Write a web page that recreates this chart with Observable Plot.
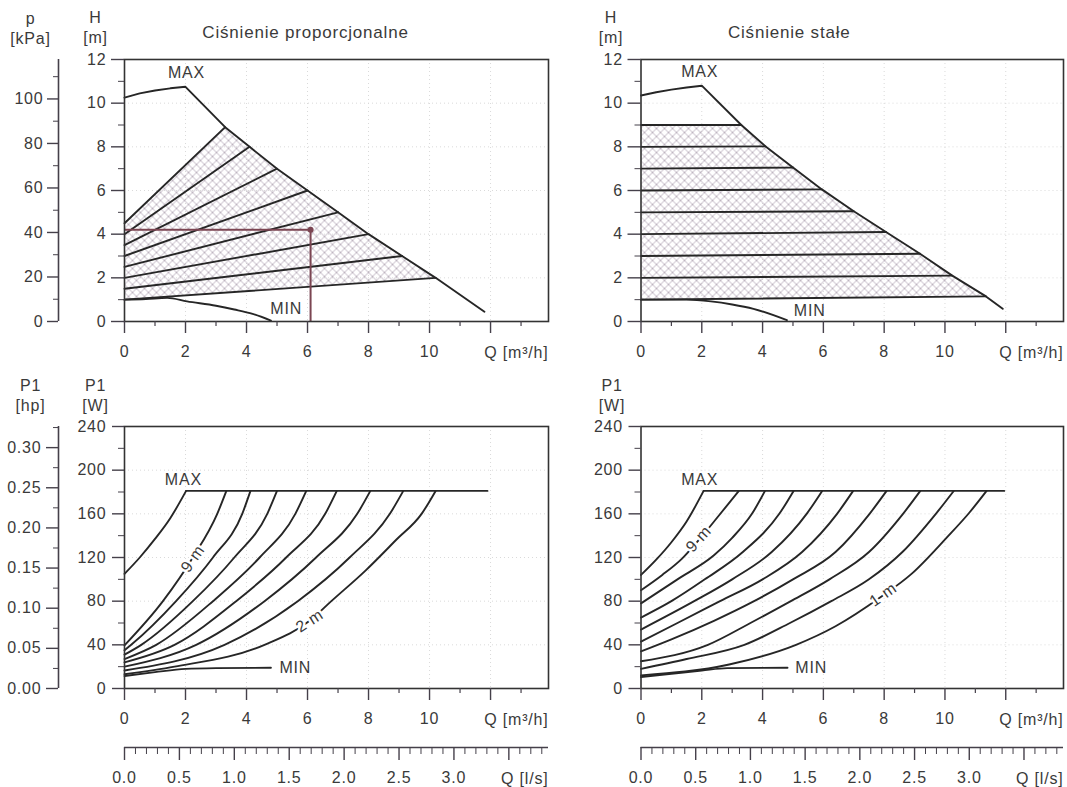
<!DOCTYPE html>
<html><head><meta charset="utf-8">
<script src="https://cdn.jsdelivr.net/npm/d3@7"></script>
<script src="https://cdn.jsdelivr.net/npm/@observablehq/plot@0.6"></script>
<style>
body{margin:0;background:#fff;}
#root{position:relative;width:1067px;height:787px;background:#fff;overflow:hidden;}
</style></head><body><div id="root"></div>
<script>
// ---------- tick values & labels ----------
const qMajorTicks = [0, 2, 4, 6, 8, 10, 12];
const qMajorLabels = ["0", "2", "4", "6", "8", "10", ""];
const qMinorTicks = [1, 3, 5, 7, 9, 11, 13];
const hMajorTicks = [0, 2, 4, 6, 8, 10, 12];
const hMinorTicks = [1, 3, 5, 7, 9, 11];
const pMajorTicks = [0, 20, 40, 60, 80, 100];
const pMinorTicks = [10, 30, 50, 70, 90, 110];
const wMajorTicks = [0, 40, 80, 120, 160, 200, 240];
const wMinorTicks = [20, 60, 100, 140, 180, 220];
const hpMajorTicks = [0, 0.05, 0.10, 0.15, 0.20, 0.25, 0.30];
const hpMajorLabels = ["0.00", "0.05", "0.10", "0.15", "0.20", "0.25", "0.30"];
const hpMinorTicks = [0.025, 0.075, 0.125, 0.175, 0.225, 0.275, 0.325];
const lsMajorTicks = [0, 0.5, 1.0, 1.5, 2.0, 2.5, 3.0, 3.5];
const lsMajorLabels = ["0.0", "0.5", "1.0", "1.5", "2.0", "2.5", "3.0", ""];
const lsMinorTicks = [0.1,0.2,0.3,0.4,0.6,0.7,0.8,0.9,1.1,1.2,1.3,1.4,1.6,1.7,1.8,1.9,2.1,2.2,2.3,2.4,2.6,2.7,2.8,2.9,3.1,3.2,3.3,3.4,3.6,3.7,3.8];

const Q_MAX = 13.9, H_MAX = 12, W_MAX = 240;
const KPA_PER_M = 9.81, W_PER_HP = 735.5, M3H_PER_LS = 3.6;

// ---------- top-left: proportional pressure ----------
const tlMaxQ = [0, 0.5, 1, 1.5, 2, 3.3, 4.1, 5.0, 6.0, 7.0, 8.0, 9.1, 10.2, 11.8];
const tlMaxH = [10.25, 10.45, 10.58, 10.68, 10.75, 8.9, 8.0, 7.0, 6.0, 5.0, 4.0, 3.0, 2.0, 0.45];
const tlMinQ = [0, 0.7, 1.4, 2.05, 3.0, 3.6, 4.2, 4.8];
const tlMinH = [1.0, 1.03, 1.08, 0.92, 0.72, 0.55, 0.35, 0.04];
const tlPropStartH = [4.5, 4.0, 3.5, 3.0, 2.5, 2.0, 1.5, 1.0];
const tlPropEndQ = [3.3, 4.1, 5.0, 6.0, 7.0, 8.0, 9.1, 10.2];
const tlPropEndH = [8.9, 8.0, 7.0, 6.0, 5.0, 4.0, 3.0, 2.0];
const tlDutyQ = 6.1, tlDutyH = 4.2;

// ---------- top-right: constant pressure ----------
const trMaxQ = [0, 0.5, 1, 1.5, 2, 3.3, 4.1, 5.0, 5.95, 7.0, 8.06, 9.18, 10.24, 11.35, 11.9];
const trMaxH = [10.35, 10.5, 10.62, 10.72, 10.8, 9.0, 8.02, 7.05, 6.05, 5.05, 4.1, 3.1, 2.1, 1.15, 0.58];
const trMinQ = [0, 1.5, 2.3, 3.0, 3.7, 4.8];
const trMinH = [1.0, 1.0, 0.92, 0.78, 0.58, 0.06];
const trLevelH = [9, 8, 7, 6, 5, 4, 3, 2, 1];
const trLevelEndQ = [3.3, 4.1, 5.0, 5.95, 7.0, 8.06, 9.18, 10.24, 11.35];
const trLevelEndH = [9.0, 8.02, 7.05, 6.05, 5.05, 4.1, 3.1, 2.1, 1.15];

// ---------- bottom-left: power, proportional ----------
const blMaxRiseQ = [0, 0.5, 1.0, 1.5, 2.02];
const blMaxRiseW = [105, 120, 137, 156, 181];
const blMaxTopQ = [2.02, 11.9];
const blMaxTopW = [181, 181];
const blMinQ = [0, 1.0, 2.0, 3.0, 4.8];
const blMinW = [11.5, 15, 18, 18.7, 19];
const bl9Q = [0, 1.26, 2.24, 3.04, 3.34];                  const bl9W = [39.5, 80, 120, 160, 181];
const bl8Q = [0, 0.22, 1.69, 2.9, 3.86, 4.13];             const bl8W = [35, 40, 80, 120, 160, 181];
const bl7Q = [0, 0.55, 2.24, 3.6, 4.68, 5.0];              const bl7W = [31, 40, 80, 120, 160, 181];
const bl6Q = [0, 1.04, 2.9, 4.43, 5.6, 5.96];              const bl6W = [27, 40, 80, 120, 160, 181];
const bl5Q = [0, 1.64, 3.66, 5.3, 6.58, 6.96];             const bl5W = [24, 40, 80, 120, 160, 181];
const bl4Q = [0, 2.35, 4.59, 6.28, 7.63, 8.06];            const bl4W = [20, 40, 80, 120, 160, 181];
const bl3Q = [0, 3.28, 5.68, 7.38, 8.7, 9.14];             const bl3W = [16.5, 40, 80, 120, 160, 181];
const bl2Q = [0, 1.64, 4.59, 6.07, 6.78, 7.9, 8.9, 9.74, 10.2]; const bl2W = [13, 20, 40, 62, 80, 108, 136, 160, 181];

// ---------- bottom-right: power, constant ----------
const brMaxRiseQ = [0, 0.5, 1.0, 1.5, 2.06];
const brMaxRiseW = [104, 118, 134, 153, 181];
const brMaxTopQ = [2.06, 11.95];
const brMaxTopW = [181, 181];
const brMinQ = [0, 1.0, 2.0, 2.84, 4.82];
const brMinW = [10.5, 13.5, 16.5, 18.7, 19];
const br9Q = [0, 0.7, 1.35, 1.9, 2.55, 3.22];            const br9W = [90, 104, 119, 136, 158, 181];
const br8Q = [0, 1.2, 2.4, 3.0, 3.65, 4.08];             const br8W = [78, 100, 122, 138, 160, 181];
const br7Q = [0, 1.0, 2.1, 3.35, 4.55, 5.02];            const br7W = [65, 80, 100, 125, 160, 181];
const br6Q = [0, 1.75, 3.0, 4.3, 5.45, 5.96];            const br6W = [54, 80, 100, 125, 160, 181];
const br5Q = [0, 1.2, 2.6, 4.0, 5.3, 6.45, 6.98];        const br5W = [43, 60, 80, 100, 125, 160, 181];
const br4Q = [0, 1.0, 2.4, 3.72, 5.0, 6.4, 7.52, 8.08];  const br4W = [34, 45, 62, 80, 100, 125, 160, 181];
const br3Q = [0, 2.2, 3.6, 4.93, 6.2, 7.5, 8.62, 9.19];  const br3W = [25, 40, 60, 80, 100, 125, 160, 181];
const br2Q = [0, 1.5, 3.4, 4.9, 6.26, 7.5, 8.6, 9.7, 10.29]; const br2W = [18, 27, 40, 60, 80, 100, 125, 160, 181];
const br1Q = [0, 2.9, 5.1, 6.4, 7.9, 8.9, 10.05, 10.8, 11.37]; const br1W = [12, 22, 40, 57, 84, 105, 138, 161, 181];

// ---------- styling ----------
const FONT = "'Liberation Sans', Arial, Helvetica, sans-serif";
const INK = "#262626", AXIS = "#45404a", TEXT = "#3a3a3a";
const HATCH = "#a495a6", DUTY = "#7b4552", GRID = "#dadada";
const baseStyle = {fontFamily: FONT, fontSize: "16px", letterSpacing: "0.8px", color: TEXT, background: "transparent", overflow: "visible"};

const root = document.getElementById("root");
function place(svg, left, top) {
  svg.style.position = "absolute"; svg.style.left = left + "px"; svg.style.top = top + "px";
  root.appendChild(svg);
}
const pts = (qs, vs, s = 0) => qs.map((q, i) => ({q, v: vs[i], s}));
const lookup = (ticks, labels) => (d) => labels[ticks.indexOf(d)];

function hatchDefs(id) {
  return () => {
    const ns = "http://www.w3.org/2000/svg";
    const defs = document.createElementNS(ns, "defs");
    const pat = document.createElementNS(ns, "pattern");
    pat.setAttribute("id", id);
    pat.setAttribute("patternUnits", "userSpaceOnUse");
    pat.setAttribute("width", 8); pat.setAttribute("height", 8);
    const path = document.createElementNS(ns, "path");
    path.setAttribute("d", "M-1,-1L9,9M9,-1L-1,9");
    path.setAttribute("stroke", HATCH); path.setAttribute("stroke-width", 0.7); path.setAttribute("fill", "none");
    pat.appendChild(path); defs.appendChild(pat);
    return defs;
  };
}

function qAxes() {
  return [
    Plot.axisX({ticks: qMajorTicks, tickSize: 12, tickPadding: 12, tickFormat: lookup(qMajorTicks, qMajorLabels), stroke: AXIS, strokeWidth: 1.4, fill: TEXT, label: null}),
    Plot.axisX({ticks: qMinorTicks, tickSize: 5, stroke: AXIS, strokeWidth: 1.2, fill: "none", label: null})
  ];
}
function gridMarks(yTicks) {
  return [
    Plot.gridX(qMajorTicks.slice(1), {stroke: GRID, strokeOpacity: 1, strokeDasharray: "1,3"}),
    Plot.gridY(yTicks.slice(1), {stroke: GRID, strokeOpacity: 1, strokeDasharray: "1,3"})
  ];
}
const lineOpts = {x: "q", y: "v", stroke: INK, strokeWidth: 1.9, strokeLinejoin: "round"};
const smooth = {...lineOpts, curve: "monotone-x"};

// ---------- p [kPa] secondary axis ----------
place(Plot.plot({
  width: 70, height: 370, marginLeft: 58, marginRight: 11, marginTop: 59, marginBottom: 49,
  x: {domain: [0, 1], axis: null}, y: {domain: [0, H_MAX * KPA_PER_M], axis: null, label: null},
  style: baseStyle,
  marks: [
    Plot.ruleX([0], {stroke: AXIS, strokeWidth: 1.6}),
    Plot.axisY({ticks: pMajorTicks, tickSize: 11, tickPadding: 4, stroke: AXIS, strokeWidth: 1.4, fill: TEXT, label: null}),
    Plot.axisY({ticks: pMinorTicks, tickSize: 5, stroke: AXIS, fill: "none", label: null}),
    Plot.text(["p"], {frameAnchor: "top-left", dx: -28, dy: -41, textAnchor: "middle", lineAnchor: "middle", fill: TEXT}),
    Plot.text(["[kPa]"], {frameAnchor: "top-left", dx: -28, dy: -21, textAnchor: "middle", lineAnchor: "middle", fill: TEXT})
  ]
}), 0, 0);

// ---------- top-left panel ----------
{
  const propLines = tlPropStartH.flatMap((h0, i) => [{q: 0, v: h0, s: i}, {q: tlPropEndQ[i], v: tlPropEndH[i], s: i}]);
  const poly = [{q: 0, v: tlPropStartH[0]}, ...tlPropEndQ.map((q, i) => ({q, v: tlPropEndH[i]})), {q: 0, v: tlPropStartH[tlPropStartH.length - 1]}];
  place(Plot.plot({
    width: 560, height: 370, marginLeft: 124, marginRight: 12, marginTop: 59, marginBottom: 49,
    x: {domain: [0, Q_MAX], axis: null, label: null}, y: {domain: [0, H_MAX], axis: null, label: null},
    style: baseStyle,
    marks: [
      hatchDefs("hatchTL"),
      ...gridMarks(hMajorTicks),
      Plot.line(poly, {x: "q", y: "v", fill: "url(#hatchTL)", stroke: "none"}),
      Plot.line(propLines, {...lineOpts, z: "s"}),
      Plot.line(pts(tlMaxQ, tlMaxH), lineOpts),
      Plot.line(pts(tlMinQ, tlMinH), smooth),
      Plot.ruleY([{h: tlDutyH, q1: 0, q2: tlDutyQ + 0.1}], {y: "h", x1: "q1", x2: "q2", stroke: DUTY, strokeWidth: 2}),
      Plot.ruleX([{q: tlDutyQ, h1: 0, h2: tlDutyH}], {x: "q", y1: "h1", y2: "h2", stroke: DUTY, strokeWidth: 2}),
      Plot.dot([{q: tlDutyQ, h: tlDutyH}], {x: "q", y: "h", r: 3, fill: DUTY, stroke: "none"}),
      Plot.frame({stroke: "#333", strokeWidth: 1.6}),
      ...qAxes(),
      Plot.axisY({ticks: hMajorTicks, tickSize: 13, tickPadding: 5, stroke: AXIS, strokeWidth: 1.4, fill: TEXT, label: null}),
      Plot.axisY({ticks: hMinorTicks, tickSize: 6, stroke: AXIS, fill: "none", label: null}),
      Plot.text(["MAX"], {x: [2.03], y: [11.4], textAnchor: "middle", lineAnchor: "middle", fill: TEXT}),
      Plot.text(["MIN"], {x: [5.3], y: [0.6], textAnchor: "middle", lineAnchor: "middle", fill: TEXT}),
      Plot.text(["Q [m³/h]"], {frameAnchor: "bottom-right", dy: 31, textAnchor: "end", lineAnchor: "middle", fill: TEXT}),
      Plot.text(["H"], {frameAnchor: "top-left", dx: -29, dy: -42, textAnchor: "middle", lineAnchor: "middle", fill: TEXT}),
      Plot.text(["[m]"], {frameAnchor: "top-left", dx: -29, dy: -22, textAnchor: "middle", lineAnchor: "middle", fill: TEXT}),
      Plot.text(["Ciśnienie proporcjonalne"], {frameAnchor: "top", dx: -31, dy: -27, textAnchor: "middle", lineAnchor: "middle", fontSize: 17, fill: TEXT})
    ]
  }), 0, 0);
}

// ---------- top-right panel ----------
{
  const levels = trLevelH.flatMap((h0, i) => [{q: 0, v: h0, s: i}, {q: trLevelEndQ[i], v: trLevelEndH[i], s: i}]);
  const poly = [{q: 0, v: trLevelH[0]}, ...trLevelEndQ.map((q, i) => ({q, v: trLevelEndH[i]})), {q: 0, v: trLevelH[trLevelH.length - 1]}];
  place(Plot.plot({
    width: 507, height: 370, marginLeft: 80.5, marginRight: 4, marginTop: 59, marginBottom: 49,
    x: {domain: [0, Q_MAX], axis: null, label: null}, y: {domain: [0, H_MAX], axis: null, label: null},
    style: baseStyle,
    marks: [
      hatchDefs("hatchTR"),
      ...gridMarks(hMajorTicks),
      Plot.line(poly, {x: "q", y: "v", fill: "url(#hatchTR)", stroke: "none"}),
      Plot.line(levels, {...lineOpts, z: "s"}),
      Plot.line(pts(trMaxQ, trMaxH), lineOpts),
      Plot.line(pts(trMinQ, trMinH), smooth),
      Plot.frame({stroke: "#333", strokeWidth: 1.6}),
      ...qAxes(),
      Plot.axisY({ticks: hMajorTicks, tickSize: 13, tickPadding: 5, stroke: AXIS, strokeWidth: 1.4, fill: TEXT, label: null}),
      Plot.axisY({ticks: hMinorTicks, tickSize: 6, stroke: AXIS, fill: "none", label: null}),
      Plot.text(["MAX"], {x: [1.93], y: [11.45], textAnchor: "middle", lineAnchor: "middle", fill: TEXT}),
      Plot.text(["MIN"], {x: [5.55], y: [0.5], textAnchor: "middle", lineAnchor: "middle", fill: TEXT}),
      Plot.text(["Q [m³/h]"], {frameAnchor: "bottom-right", dy: 31, textAnchor: "end", lineAnchor: "middle", fill: TEXT}),
      Plot.text(["H"], {frameAnchor: "top-left", dx: -30, dy: -42, textAnchor: "middle", lineAnchor: "middle", fill: TEXT}),
      Plot.text(["[m]"], {frameAnchor: "top-left", dx: -30, dy: -22, textAnchor: "middle", lineAnchor: "middle", fill: TEXT}),
      Plot.text(["Ciśnienie stałe"], {frameAnchor: "top", dx: -63, dy: -27, textAnchor: "middle", lineAnchor: "middle", fontSize: 17, fill: TEXT})
    ]
  }), 560, 0);
}

// ---------- P1 [hp] secondary axis ----------
place(Plot.plot({
  width: 70, height: 350, marginLeft: 58, marginRight: 11, marginTop: 56, marginBottom: 32,
  x: {domain: [0, 1], axis: null}, y: {domain: [0, W_MAX / W_PER_HP], axis: null, label: null},
  style: baseStyle,
  marks: [
    Plot.ruleX([0], {stroke: AXIS, strokeWidth: 1.6}),
    Plot.axisY({ticks: hpMajorTicks, tickSize: 12, tickPadding: 5, tickFormat: lookup(hpMajorTicks, hpMajorLabels), stroke: AXIS, strokeWidth: 1.4, fill: TEXT, label: null}),
    Plot.axisY({ticks: hpMinorTicks, tickSize: 5, stroke: AXIS, fill: "none", label: null}),
    Plot.text(["P1"], {frameAnchor: "top-left", dx: -28, dy: -41, textAnchor: "middle", lineAnchor: "middle", fill: TEXT}),
    Plot.text(["[hp]"], {frameAnchor: "top-left", dx: -28, dy: -21, textAnchor: "middle", lineAnchor: "middle", fill: TEXT})
  ]
}), 0, 370);

function powerPanel(opts) {
  return Plot.plot({
    width: opts.width, height: 350, marginLeft: opts.mL, marginRight: opts.mR, marginTop: 56, marginBottom: 32,
    x: {domain: [0, Q_MAX], axis: null, label: null}, y: {domain: [0, W_MAX], axis: null, label: null},
    style: baseStyle,
    marks: [
      ...gridMarks(wMajorTicks),
      ...opts.curves.map(([qs, ws]) => Plot.line(pts(qs, ws), smooth)),
      Plot.line(pts(opts.minQ, opts.minW), smooth),
      Plot.line(pts(opts.maxRiseQ, opts.maxRiseW), smooth),
      Plot.line(pts(opts.maxTopQ, opts.maxTopW), lineOpts),
      ...opts.labels.map(([t, q, w, a]) => Plot.text([t], {x: [q], y: [w], rotate: a, textAnchor: "middle", lineAnchor: "middle", fill: TEXT, stroke: "white", strokeWidth: 5})),
      Plot.frame({stroke: "#333", strokeWidth: 1.6}),
      ...qAxes(),
      Plot.axisY({ticks: wMajorTicks, tickSize: 12, tickPadding: 6, stroke: AXIS, strokeWidth: 1.4, fill: TEXT, label: null}),
      Plot.axisY({ticks: wMinorTicks, tickSize: 6, stroke: AXIS, fill: "none", label: null}),
      Plot.text(["MAX"], {x: [opts.maxLabelQ], y: [191], textAnchor: "middle", lineAnchor: "middle", fill: TEXT}),
      Plot.text(["MIN"], {x: [opts.minLabelQ], y: [19], textAnchor: "middle", lineAnchor: "middle", fill: TEXT}),
      Plot.text(["Q [m³/h]"], {frameAnchor: "bottom-right", dy: 31, textAnchor: "end", lineAnchor: "middle", fill: TEXT}),
      Plot.text(["P1"], {frameAnchor: "top-left", dx: -29, dy: -41, textAnchor: "middle", lineAnchor: "middle", fill: TEXT}),
      Plot.text(["[W]"], {frameAnchor: "top-left", dx: -29, dy: -21, textAnchor: "middle", lineAnchor: "middle", fill: TEXT})
    ]
  });
}

place(powerPanel({
  width: 560, mL: 124, mR: 12,
  curves: [[bl9Q, bl9W], [bl8Q, bl8W], [bl7Q, bl7W], [bl6Q, bl6W], [bl5Q, bl5W], [bl4Q, bl4W], [bl3Q, bl3W], [bl2Q, bl2W]],
  minQ: blMinQ, minW: blMinW, maxRiseQ: blMaxRiseQ, maxRiseW: blMaxRiseW, maxTopQ: blMaxTopQ, maxTopW: blMaxTopW,
  labels: [["9 m", 2.24, 119, -55], ["2 m", 6.07, 62, -33]],
  maxLabelQ: 1.93, minLabelQ: 5.6
}), 0, 370);

place(powerPanel({
  width: 507, mL: 80.5, mR: 4,
  curves: [[br9Q, br9W], [br8Q, br8W], [br7Q, br7W], [br6Q, br6W], [br5Q, br5W], [br4Q, br4W], [br3Q, br3W], [br2Q, br2W], [br1Q, br1W]],
  minQ: brMinQ, minW: brMinW, maxRiseQ: brMaxRiseQ, maxRiseW: brMaxRiseW, maxTopQ: brMaxTopQ, maxTopW: brMaxTopW,
  labels: [["9 m", 1.9, 137, -48], ["1 m", 7.97, 86, -35]],
  maxLabelQ: 1.93, minLabelQ: 5.6
}), 560, 370);

// ---------- Q [l/s] axes ----------
function lsAxis(width, mL, mR) {
  return Plot.plot({
    width, height: 67, marginLeft: mL, marginRight: mR, marginTop: 26, marginBottom: 40,
    x: {domain: [0, Q_MAX / M3H_PER_LS], axis: null, label: null}, y: {domain: [0, 1], axis: null},
    style: baseStyle,
    marks: [
      Plot.ruleY([0], {stroke: AXIS, strokeWidth: 1.6}),
      Plot.axisX({ticks: lsMajorTicks, tickSize: 13, tickPadding: 11, tickFormat: lookup(lsMajorTicks, lsMajorLabels), stroke: AXIS, strokeWidth: 1.4, fill: TEXT, label: null}),
      Plot.axisX({ticks: lsMinorTicks, tickSize: 7, stroke: AXIS, strokeWidth: 1, fill: "none", label: null}),
      Plot.text(["Q [l/s]"], {frameAnchor: "bottom-right", dy: 31, textAnchor: "end", lineAnchor: "middle", fill: TEXT})
    ]
  });
}
place(lsAxis(560, 124, 12), 0, 720);
place(lsAxis(507, 80.5, 4), 560, 720);
</script></body></html>
